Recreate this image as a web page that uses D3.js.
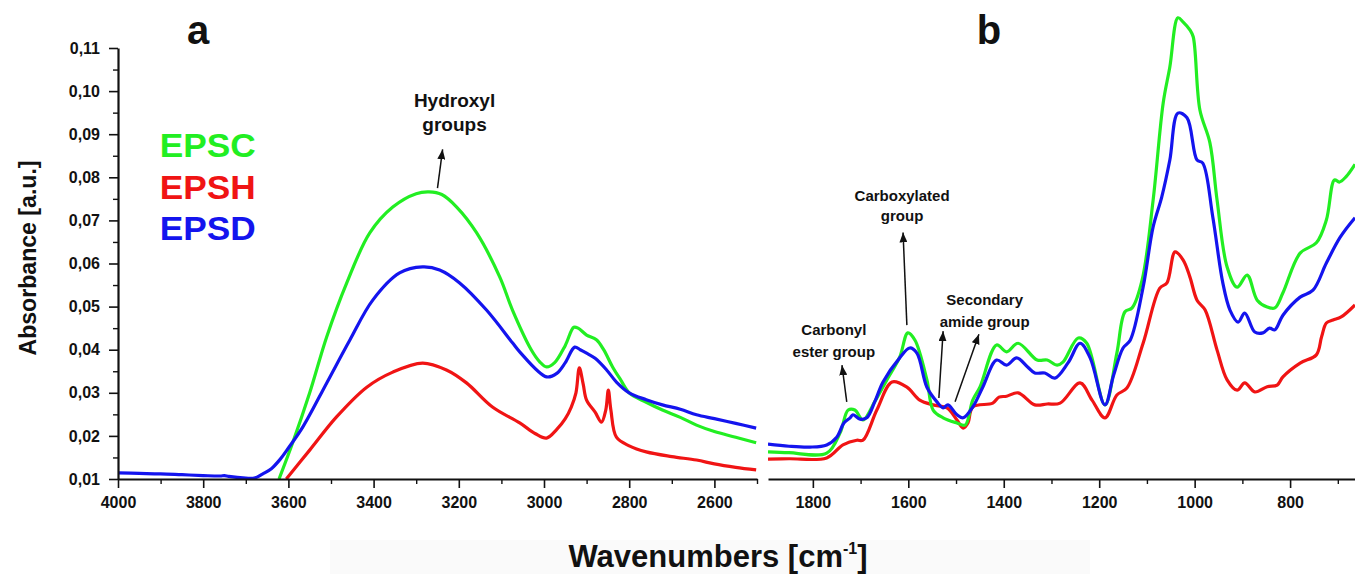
<!DOCTYPE html>
<html><head><meta charset="utf-8">
<script src="https://cdn.jsdelivr.net/npm/d3@7"></script>
<style>
html,body{margin:0;padding:0;background:#fff;}
svg text{font-family:"Liberation Sans",Arial,sans-serif;font-weight:bold;}
</style></head>
<body><svg id="c" width="1355" height="574"></svg>
<script>
// ---------- DATA ----------
const seriesNames = ["EPSC","EPSH","EPSD"];
const seriesColors = ["#22ee22","#f01414","#1414ee"];

const yTickValues = [0.01,0.02,0.03,0.04,0.05,0.06,0.07,0.08,0.09,0.10,0.11];
const yTickLabels = ["0,01","0,02","0,03","0,04","0,05","0,06","0,07","0,08","0,09","0,10","0,11"];
const xTicksA = [4000,3800,3600,3400,3200,3000,2800,2600];
const xTicksB = [1800,1600,1400,1200,1000,800];

// Panel a (high wavenumber region)
const epscA = [[3622,0.0100],[3590,0.0184],[3550,0.0300],[3510,0.0430],[3463,0.0555],[3409,0.0671],[3355,0.0731],[3300,0.0762],[3270,0.0766],[3240,0.0760],[3205,0.0731],[3158,0.0671],[3104,0.0569],[3074,0.0492],[3030,0.0400],[3010,0.0372],[2994,0.0360],[2975,0.0370],[2950,0.0410],[2930,0.0452],[2920,0.0450],[2900,0.0434],[2877,0.0423],[2860,0.0400],[2839,0.0360],[2820,0.0330],[2800,0.0300],[2760,0.0278],[2722,0.0260],[2680,0.0243],[2642,0.0225],[2600,0.0210],[2550,0.0197],[2502,0.0184]];
const epshA = [[3605,0.0100],[3550,0.0167],[3487,0.0244],[3416,0.0313],[3355,0.0348],[3285,0.0369],[3229,0.0353],[3182,0.0323],[3121,0.0267],[3057,0.0230],[3020,0.0205],[2994,0.0195],[2970,0.0215],[2950,0.0240],[2936,0.0267],[2925,0.0300],[2917,0.0358],[2908,0.0320],[2900,0.0283],[2880,0.0255],[2865,0.0232],[2855,0.0260],[2849,0.0306],[2843,0.0260],[2830,0.0197],[2800,0.0177],[2760,0.0163],[2700,0.0152],[2642,0.0144],[2600,0.0135],[2550,0.0127],[2502,0.0121]];
const epsdA = [[4000,0.0114],[3950,0.0113],[3900,0.0112],[3850,0.0110],[3800,0.0108],[3760,0.0107],[3750,0.0108],[3740,0.0106],[3700,0.0102],[3680,0.0102],[3660,0.0112],[3640,0.0124],[3620,0.0145],[3600,0.0172],[3566,0.0221],[3510,0.0323],[3456,0.0422],[3402,0.0515],[3339,0.0578],[3285,0.0592],[3245,0.0585],[3198,0.0555],[3135,0.0492],[3074,0.0416],[3057,0.0395],[2994,0.0337],[2970,0.0345],[2950,0.0370],[2928,0.0406],[2915,0.0400],[2900,0.0392],[2880,0.0380],[2853,0.0353],[2830,0.0325],[2800,0.0300],[2760,0.0284],[2722,0.0272],[2680,0.0262],[2642,0.0249],[2600,0.0240],[2550,0.0229],[2502,0.0218]];

// Panel b (fingerprint region)
const epscB = [[1894,0.0163],[1850,0.0161],[1771,0.0160],[1743,0.0207],[1726,0.0260],[1712,0.0260],[1695,0.0237],[1670,0.0280],[1645,0.0330],[1618,0.0383],[1601,0.0439],[1586,0.0422],[1561,0.0330],[1548,0.0260],[1527,0.0242],[1498,0.0230],[1481,0.0225],[1465,0.0283],[1450,0.0313],[1415,0.0411],[1394,0.0395],[1370,0.0415],[1330,0.0376],[1309,0.0376],[1288,0.0364],[1276,0.0371],[1244,0.0427],[1226,0.0415],[1188,0.0272],[1163,0.0392],[1146,0.0488],[1131,0.0497],[1110,0.0562],[1087,0.0747],[1066,0.0972],[1052,0.1056],[1035,0.1170],[1024,0.1160],[1010,0.1142],[1003,0.1126],[989,0.0956],[968,0.0880],[953,0.0747],[932,0.0592],[911,0.0545],[890,0.0573],[869,0.0515],[848,0.0499],[832,0.0497],[815,0.0532],[779,0.0624],[745,0.0648],[724,0.0701],[707,0.0794],[697,0.0789],[683,0.0801],[664,0.0830]];
const epshB = [[1894,0.0146],[1850,0.0147],[1771,0.0149],[1737,0.0179],[1708,0.0190],[1695,0.0190],[1666,0.0260],[1634,0.0325],[1603,0.0313],[1576,0.0283],[1548,0.0272],[1519,0.0265],[1498,0.0237],[1485,0.0218],[1475,0.0230],[1465,0.0267],[1423,0.0276],[1410,0.0290],[1394,0.0292],[1370,0.0300],[1335,0.0272],[1309,0.0274],[1282,0.0276],[1240,0.0323],[1215,0.0283],[1188,0.0242],[1163,0.0295],[1142,0.0311],[1108,0.0415],[1073,0.0543],[1058,0.0555],[1041,0.0627],[1024,0.0608],[1010,0.0569],[995,0.0515],[978,0.0492],[953,0.0399],[932,0.0330],[911,0.0306],[895,0.0323],[874,0.0302],[848,0.0314],[827,0.0318],[815,0.0337],[779,0.0369],[745,0.0388],[734,0.0430],[724,0.0462],[710,0.0469],[693,0.0476],[664,0.0504]];
const epsdB = [[1894,0.0181],[1850,0.0176],[1806,0.0174],[1771,0.0179],[1750,0.0197],[1735,0.0230],[1722,0.0242],[1716,0.0249],[1701,0.0239],[1687,0.0242],[1670,0.0280],[1653,0.0325],[1618,0.0381],[1597,0.0404],[1582,0.0392],[1561,0.0313],[1540,0.0279],[1527,0.0265],[1517,0.0272],[1498,0.0249],[1485,0.0242],[1465,0.0267],[1444,0.0313],[1415,0.0376],[1394,0.0364],[1373,0.0381],[1350,0.0360],[1335,0.0346],[1314,0.0346],[1293,0.0334],[1265,0.0370],[1240,0.0415],[1219,0.0381],[1188,0.0272],[1170,0.0340],[1150,0.0404],[1135,0.0422],[1108,0.0545],[1087,0.0685],[1069,0.0754],[1052,0.0840],[1035,0.0949],[1016,0.0938],[995,0.0840],[983,0.0833],[962,0.0708],[941,0.0555],[926,0.0492],[909,0.0464],[895,0.0485],[874,0.0441],[857,0.0439],[843,0.0450],[832,0.0446],[815,0.0480],[779,0.0522],[752,0.0538],[724,0.0601],[695,0.0661],[664,0.0706]];

// Annotations (data coordinates: wavenumber, absorbance)
const annotA = [{lines:["Hydroxyl","groups"], x:3210, y:[0.0963,0.0907], size:19, arrows:[[3250,0.0775,3238,0.0865]]}];
const annotB = [
  {lines:["Carboxylated","group"], x:1613, y:[0.0745,0.0699], size:15, arrows:[[1603,0.0457,1611,0.0672]]},
  {lines:["Carbonyl","ester group"], x:1756, y:[0.0434,0.0383], size:15, arrows:[[1729,0.0279,1739,0.0364]]},
  {lines:["Secondary","amide group"], x:1440, y:[0.0504,0.0453], size:15, arrows:[[1536,0.0288,1527,0.0443],[1502,0.0279,1452,0.0436]]}
];

// ---------- DRAW ----------
const svg = d3.select("#c");
svg.append("rect").attr("x",330).attr("y",540).attr("width",760).attr("height",34).attr("fill","#fafafa");

const y = d3.scaleLinear().domain([0.01,0.11]).range([479,48]);
const xA = d3.scaleLinear().domain([4000,2500]).range([118,757]);
const xB = d3.scaleLinear().domain([1894,664]).range([768,1355]);

const defs = svg.append("defs");
defs.append("clipPath").attr("id","clipA").append("rect").attr("x",118).attr("y",0).attr("width",757-118).attr("height",479);
defs.append("clipPath").attr("id","clipB").append("rect").attr("x",768).attr("y",0).attr("width",1355-768).attr("height",479);
defs.append("marker").attr("id","arr").attr("viewBox","0 0 10 8").attr("refX",10).attr("refY",4)
  .attr("markerWidth",10).attr("markerHeight",8).attr("markerUnits","userSpaceOnUse").attr("orient","auto")
  .append("path").attr("d","M0,0L10,4L0,8Z").attr("fill","#111");

function drawLines(x, sets, clip){
  const g = svg.append("g").attr("clip-path",`url(#${clip})`);
  const line = d3.line().x(d=>x(d[0])).y(d=>y(d[1])).curve(d3.curveCatmullRom.alpha(0.5));
  sets.forEach((s,i)=>{
    g.append("path").datum(s.data).attr("d",line).attr("fill","none")
     .attr("stroke",s.color).attr("stroke-width",3.2).attr("stroke-linejoin","round");
  });
}
// draw order: red, green, blue on top
drawLines(xA,[{data:epshA,color:seriesColors[1]},{data:epscA,color:seriesColors[0]},{data:epsdA,color:seriesColors[2]}],"clipA");
drawLines(xB,[{data:epshB,color:seriesColors[1]},{data:epscB,color:seriesColors[0]},{data:epsdB,color:seriesColors[2]}],"clipB");

function styleAxis(g){
  g.select(".domain").attr("stroke","#111").attr("stroke-width",2.2);
  g.selectAll(".tick line").attr("stroke","#111").attr("stroke-width",1.6);
  g.selectAll(".tick text").attr("fill","#111").style("font-size","16px");
}
function minor(g){ g.selectAll(".tick text").remove(); g.select(".domain").remove(); g.selectAll(".tick line").attr("stroke","#111").attr("stroke-width",1.4);}

// y axis
const yMinor = d3.range(0.015,0.11,0.01);
svg.append("g").attr("transform","translate(118,0)").call(d3.axisLeft(y).tickValues(yMinor).tickSize(5)).call(minor);
const gy = svg.append("g").attr("transform","translate(118,0)")
  .call(d3.axisLeft(y).tickValues(yTickValues).tickFormat((d,i)=>yTickLabels[i]).tickSize(9).tickPadding(9).tickSizeOuter(0));
styleAxis(gy);

// x axis a
svg.append("g").attr("transform","translate(0,479)").call(d3.axisBottom(xA).tickValues(d3.range(3900,2400,-200)).tickSize(5)).call(minor);
const gxa = svg.append("g").attr("transform","translate(0,479)")
  .call(d3.axisBottom(xA).tickValues(xTicksA).tickFormat(d3.format("d")).tickSize(9).tickPadding(9).tickSizeOuter(0));
styleAxis(gxa);

// x axis b
svg.append("g").attr("transform","translate(0,479)").call(d3.axisBottom(xB).tickValues(d3.range(1700,600,-200)).tickSize(5)).call(minor);
const gxb = svg.append("g").attr("transform","translate(0,479)")
  .call(d3.axisBottom(xB).tickValues(xTicksB).tickFormat(d3.format("d")).tickSize(9).tickPadding(9).tickSizeOuter(0));
styleAxis(gxb);

// Panel letters
svg.append("text").attr("x",xA(3812)).attr("y",y(0.111)).attr("text-anchor","middle").style("font-size","40px").attr("fill","#111").text("a");
svg.append("text").attr("x",xB(1431)).attr("y",y(0.111)).attr("text-anchor","middle").style("font-size","40px").attr("fill","#111").text("b");

// Legend
const legY = [0.0847,0.0750,0.0655];
seriesNames.forEach((n,i)=>{
  svg.append("text").attr("x",xA(3902)).attr("y",y(legY[i])).style("font-size","33px")
    .attr("textLength",96).attr("lengthAdjust","spacingAndGlyphs").attr("fill",seriesColors[i]).text(n);
});

// Annotations
function drawAnnot(x, list){
  list.forEach(a=>{
    a.lines.forEach((t,j)=>{
      svg.append("text").attr("x",x(a.x)).attr("y",y(a.y[j])).attr("text-anchor","middle")
        .style("font-size",a.size+"px").attr("fill","#111").text(t);
    });
    a.arrows.forEach(r=>{
      svg.append("line").attr("x1",x(r[0])).attr("y1",y(r[1])).attr("x2",x(r[2])).attr("y2",y(r[3]))
        .attr("stroke","#111").attr("stroke-width",1.5).attr("marker-end","url(#arr)");
    });
  });
}
drawAnnot(xA, annotA);
drawAnnot(xB, annotB);

// Axis titles
svg.append("text").attr("transform","translate(36,258) rotate(-90)").attr("text-anchor","middle")
  .style("font-size","24px").attr("textLength",195).attr("lengthAdjust","spacingAndGlyphs").attr("fill","#111").text("Absorbance [a.u.]");
const xt = svg.append("text").attr("x",718).attr("y",567).attr("text-anchor","middle").style("font-size","31px").attr("fill","#111");
xt.append("tspan").text("Wavenumbers [cm");
xt.append("tspan").attr("dy",-13).style("font-size","16px").text("-1");
xt.append("tspan").attr("dy",13).text("]");
</script></body></html>
